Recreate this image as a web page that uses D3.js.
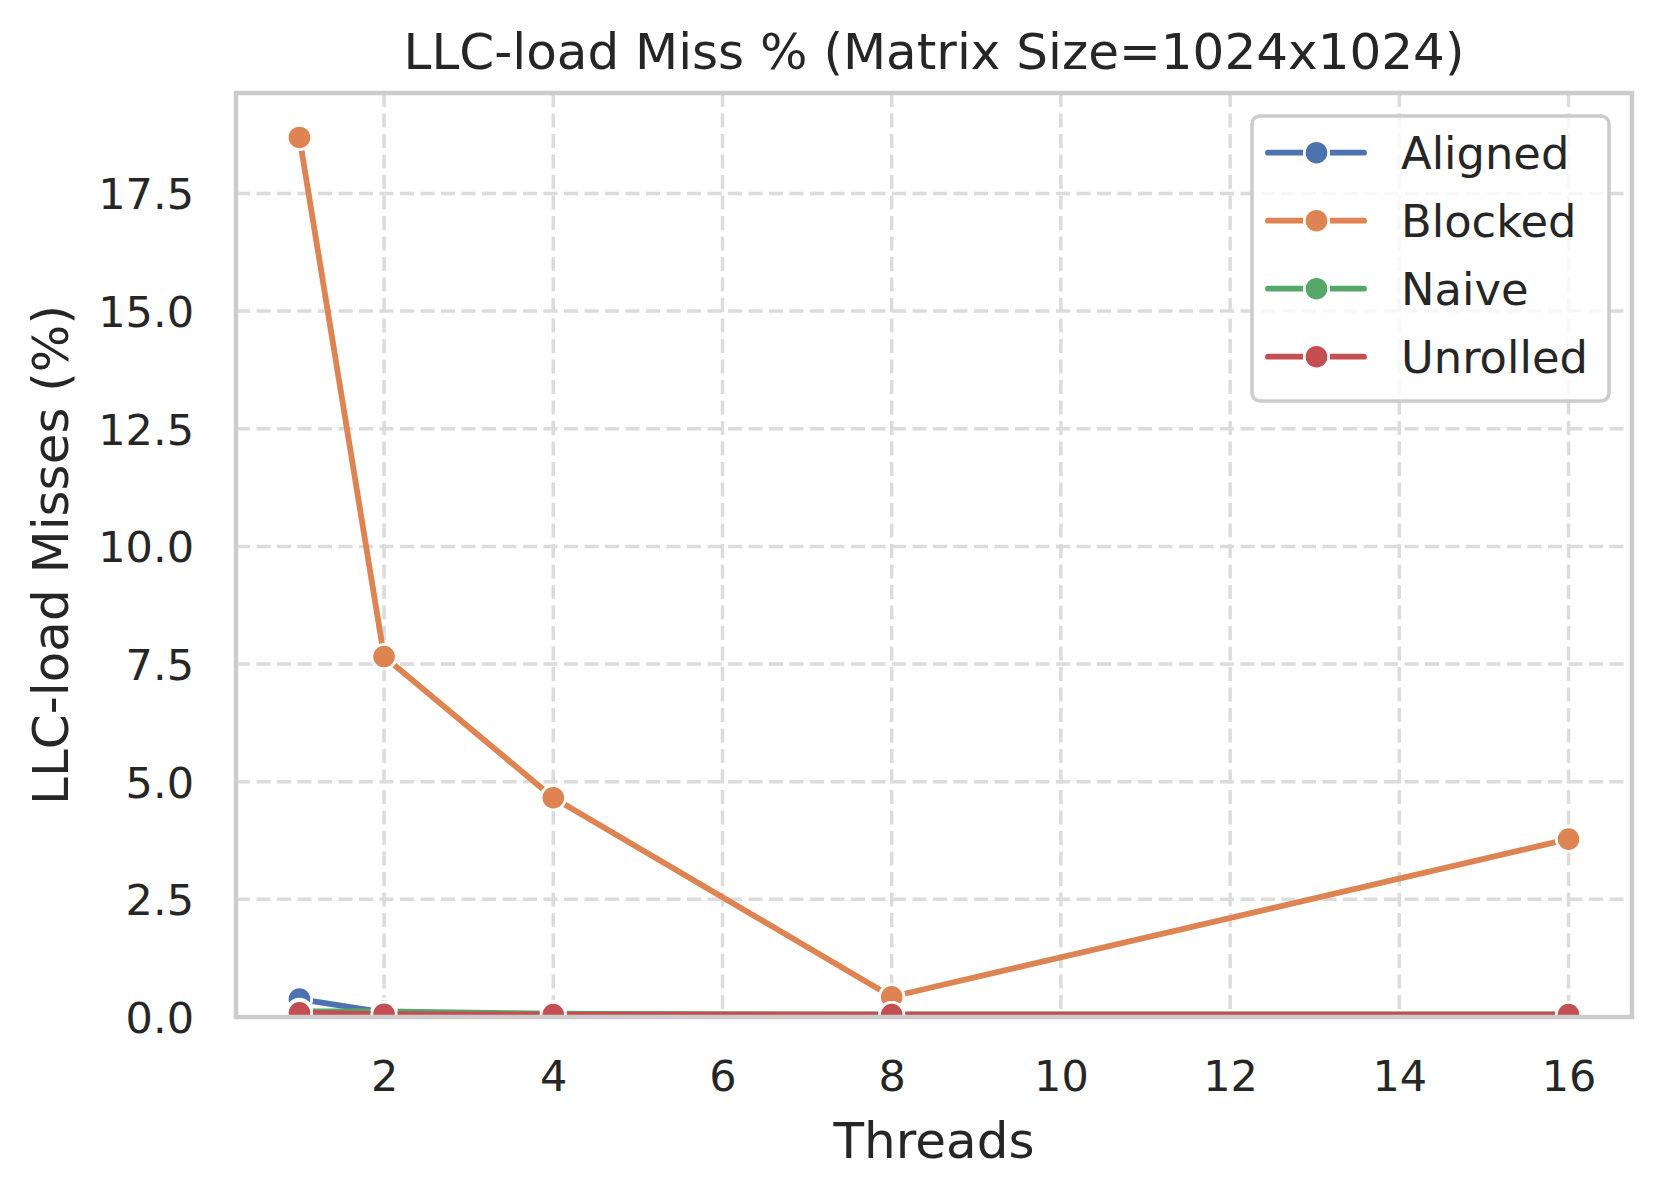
<!DOCTYPE html>
<html>
<head>
<meta charset="utf-8">
<script src="https://cdn.jsdelivr.net/npm/d3@7"></script>
<style>
  html, body { margin: 0; padding: 0; background: #ffffff; }
  svg { display: block; font-family: "DejaVu Sans", sans-serif; }
</style>
</head>
<body>
<svg id="chart" width="1661" height="1196"></svg>
<script>
// ---- data ----
const threads = [1, 2, 4, 8, 16];
const seriesNames = ["Aligned", "Blocked", "Naive", "Unrolled"];
const aligned  = [0.38, 0.10, 0.05, 0.05, 0.05];
const blocked  = [18.69, 7.66, 4.66, 0.43, 3.78];
const naive    = [0.12, 0.12, 0.07, 0.05, 0.05];
const unrolled = [0.09, 0.06, 0.05, 0.05, 0.05];
const xTicks = [2, 4, 6, 8, 10, 12, 14, 16];
const yTicks = [0, 2.5, 5, 7.5, 10, 12.5, 15, 17.5];
const titleText = "LLC-load Miss % (Matrix Size=1024x1024)";
const xLabel = "Threads";
const yLabel = "LLC-load Misses (%)";

const seriesValues = [aligned, blocked, naive, unrolled];
const colors = ["#4c72b0", "#dd8452", "#55a868", "#c44e52"];

// ---- layout ----
const W = 1661, H = 1196;
const plot = { left: 236, right: 1632, top: 93, bottom: 1017 };
const textColor = "#262626";

const svg = d3.select("#chart");
svg.append("rect").attr("width", W).attr("height", H).attr("fill", "#fff");

const x = d3.scaleLinear().domain([0.25, 16.75]).range([plot.left, plot.right]);
const y = d3.scaleLinear().domain([0, 19.635]).range([plot.bottom, plot.top]);

// clip
svg.append("defs").append("clipPath").attr("id", "clip")
  .append("rect")
  .attr("x", plot.left).attr("y", plot.top)
  .attr("width", plot.right - plot.left).attr("height", plot.bottom - plot.top);

// grid
const gridG = svg.append("g");
gridG.selectAll("line.vx").data(xTicks).join("line")
  .attr("x1", d => x(d)).attr("x2", d => x(d))
  .attr("y1", plot.top).attr("y2", plot.bottom)
  .attr("stroke", "#dcdcdc").attr("stroke-width", 3.5)
  .attr("stroke-dasharray", "14,6.5");
gridG.selectAll("line.hy").data(yTicks).join("line")
  .attr("y1", d => y(d)).attr("y2", d => y(d))
  .attr("x1", plot.left).attr("x2", plot.right)
  .attr("stroke", "#dcdcdc").attr("stroke-width", 3.5)
  .attr("stroke-dasharray", "14,6.5");

// axes (tick labels only)
const xAxis = d3.axisBottom(x).tickValues(xTicks).tickSize(0).tickPadding(0).tickFormat(d3.format("d"));
const xg = svg.append("g").attr("transform", `translate(0,${plot.bottom})`).call(xAxis);
xg.select(".domain").remove();
xg.selectAll("text").attr("font-size", 43).attr("fill", textColor)
  .attr("font-family", "DejaVu Sans").attr("dy", null).attr("y", 74);

const yAxis = d3.axisLeft(y).tickValues(yTicks).tickSize(0).tickPadding(0).tickFormat(d3.format(".1f"));
const yg = svg.append("g").attr("transform", `translate(${plot.left},0)`).call(yAxis);
yg.select(".domain").remove();
yg.selectAll("text").attr("font-size", 43).attr("fill", textColor)
  .attr("font-family", "DejaVu Sans").attr("x", -42).attr("dy", "0.36em");

// series
const line = d3.line().x(d => x(d[0])).y(d => y(d[1]));
const dataG = svg.append("g").attr("clip-path", "url(#clip)");
seriesValues.forEach((vals, i) => {
  const pts = threads.map((t, j) => [t, vals[j]]);
  const g = dataG.append("g");
  g.append("path").datum(pts).attr("d", line)
    .attr("fill", "none").attr("stroke", colors[i]).attr("stroke-width", 5.8)
    .attr("stroke-linecap", "round").attr("stroke-linejoin", "round");
  g.selectAll("circle").data(pts).join("circle")
    .attr("cx", d => x(d[0])).attr("cy", d => y(d[1])).attr("r", 12.2)
    .attr("fill", colors[i]).attr("stroke", "#fff").attr("stroke-width", 2.8);
});

// frame
svg.append("rect")
  .attr("x", plot.left).attr("y", plot.top)
  .attr("width", plot.right - plot.left).attr("height", plot.bottom - plot.top)
  .attr("fill", "none").attr("stroke", "#cccccc").attr("stroke-width", 4.5);

// title and labels
svg.append("text").attr("x", (plot.left + plot.right) / 2).attr("y", 69)
  .attr("text-anchor", "middle").attr("font-size", 50).attr("fill", textColor).text(titleText);
svg.append("text").attr("x", (plot.left + plot.right) / 2).attr("y", 1158)
  .attr("text-anchor", "middle").attr("font-size", 50).attr("fill", textColor).text(xLabel);
svg.append("text")
  .attr("transform", `translate(68,${(plot.top + plot.bottom) / 2}) rotate(-90)`)
  .attr("text-anchor", "middle").attr("font-size", 50).attr("fill", textColor).text(yLabel);

// legend
const lg = svg.append("g");
lg.append("rect").attr("x", 1252).attr("y", 116).attr("width", 357).attr("height", 285)
  .attr("rx", 8).attr("ry", 8)
  .attr("fill", "#ffffff").attr("fill-opacity", 0.8)
  .attr("stroke", "#cccccc").attr("stroke-width", 3.5);
const legendY = d3.scaleLinear().domain([0, 3]).range([152.7, 356.7]);
seriesNames.forEach((name, i) => {
  const yy = legendY(i);
  lg.append("line").attr("x1", 1268).attr("x2", 1364).attr("y1", yy).attr("y2", yy)
    .attr("stroke", colors[i]).attr("stroke-width", 5.8).attr("stroke-linecap", "round");
  lg.append("circle").attr("cx", 1316.5).attr("cy", yy).attr("r", 12.2)
    .attr("fill", colors[i]).attr("stroke", "#fff").attr("stroke-width", 2.8);
  lg.append("text").attr("x", 1401).attr("y", yy).attr("dy", "0.36em")
    .attr("font-size", 44.8).attr("fill", textColor).text(name);
});
</script>
</body>
</html>
